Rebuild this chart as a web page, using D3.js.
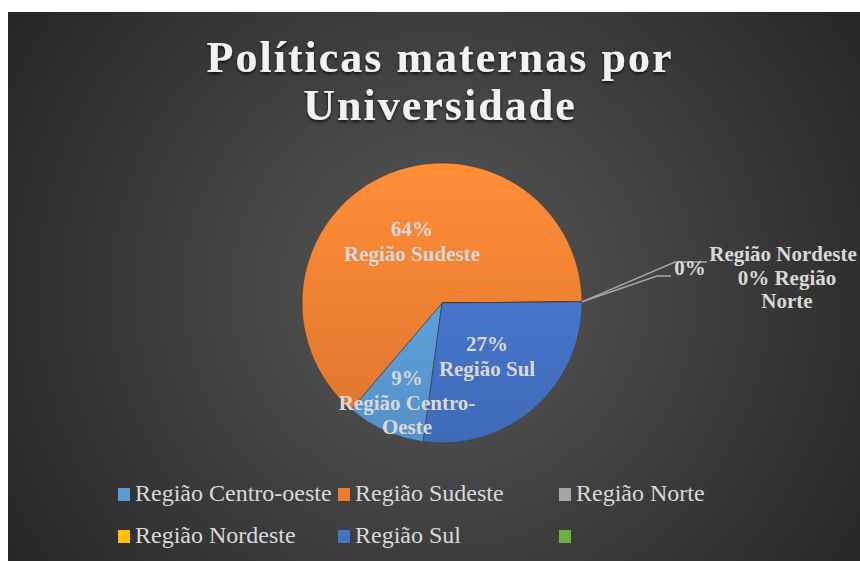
<!DOCTYPE html>
<html>
<head>
<meta charset="utf-8">
<script src="https://cdn.jsdelivr.net/npm/d3@7"></script>
<style>
  body { margin: 0; background: #fff; }
  svg { display: block; }
</style>
</head>
<body>
<div id="chart"></div>
<script>
// chart data
var regions = ["Região Centro-oeste", "Região Sudeste", "Região Norte", "Região Nordeste", "Região Sul"];
var counts = [1, 7, 0, 0, 3];
var percentLabels = ["9%", "64%", "0%", "0%", "27%"];
var sliceColors = ["#5b9bd5", "#ed7d31", "#a5a5a5", "#ffc000", "#4472c4"];
var legendNames = ["Região Centro-oeste", "Região Sudeste", "Região Norte", "Região Nordeste", "Região Sul", ""];
var legendColors = ["#5b9bd5", "#ed7d31", "#a5a5a5", "#ffc000", "#4472c4", "#70ad47"];
var titleLines = ["Políticas maternas por", "Universidade"];

var W = 860, H = 561;
var box = { left: 8, top: 12 };
var cx = 442, cy = 303, radius = 140;

var svg = d3.select("#chart").append("svg")
    .attr("width", W)
    .attr("height", H);

var defs = svg.append("defs");

// background radial gradient
var bg = defs.append("radialGradient")
    .attr("id", "bg-grad")
    .attr("gradientUnits", "userSpaceOnUse")
    .attr("cx", 440).attr("cy", 290).attr("r", 520);
bg.append("stop").attr("offset", "0%").attr("stop-color", "#585858");
bg.append("stop").attr("offset", "100%").attr("stop-color", "#252525");

svg.append("rect")
    .attr("x", box.left)
    .attr("y", box.top)
    .attr("width", W - box.left)
    .attr("height", H - box.top)
    .attr("fill", "url(#bg-grad)");

// title shadow
var shadow = defs.append("filter").attr("id", "title-shadow")
    .attr("x", "-10%").attr("y", "-20%").attr("width", "120%").attr("height", "150%");
shadow.append("feDropShadow")
    .attr("dx", 0).attr("dy", 2).attr("stdDeviation", 1.5)
    .attr("flood-color", "#000").attr("flood-opacity", 0.7);

svg.append("g").selectAll("text")
    .data(titleLines)
    .enter()
    .append("text")
    .attr("x", 440)
    .attr("y", function(d, i){ return 72 + i * 48; })
    .attr("text-anchor", "middle")
    .attr("font-family", "'Liberation Serif', 'Times New Roman', serif")
    .attr("font-weight", "bold")
    .attr("font-size", "44px")
    .attr("letter-spacing", "2px")
    .attr("fill", "#f2f2f2")
    .attr("filter", "url(#title-shadow)")
    .text(function(d){ return d; });

// slice gradients, lighter on top (coordinates of the pie group)
sliceColors.forEach(function(c, i){
    var g = defs.append("linearGradient")
        .attr("id", "slice-grad-" + i)
        .attr("gradientUnits", "userSpaceOnUse")
        .attr("x1", 0).attr("y1", -radius)
        .attr("x2", 0).attr("y2", radius);
    g.append("stop").attr("offset", "0%").attr("stop-color", d3.color(c).brighter(0.35));
    g.append("stop").attr("offset", "100%").attr("stop-color", d3.color(c).darker(0.2));
});

var startDeg = 187.7;
var pie = d3.pie()
    .sort(null)
    .value(function(d){ return d; })
    .startAngle(startDeg * Math.PI / 180)
    .endAngle((startDeg + 360) * Math.PI / 180);

var arcs = pie(counts);
var arc = d3.arc().innerRadius(0).outerRadius(radius);

var pieG = svg.append("g").attr("transform", "translate(" + cx + "," + cy + ")");

pieG.selectAll("path")
    .data(arcs)
    .enter()
    .append("path")
    .attr("d", arc)
    .attr("fill", function(d, i){ return "url(#slice-grad-" + i + ")"; })
    .attr("stroke", "#3a3a3a")
    .attr("stroke-width", 0.6);

// labels inside slices
var labelFont = "'Liberation Serif', 'Times New Roman', serif";
var labelColor = "#d9d9d9";
var inside = [
    { i: 1, dx: -30, dy: -67, lines: ["64%", "Região Sudeste"] },
    { i: 4, dx: 45, dy: 48, lines: ["27%", "Região Sul"] },
    { i: 0, dx: -35, dy: 82, lines: ["9%", "Região Centro-", "Oeste"] }
];

inside.forEach(function(l){
    var t = pieG.append("text")
        .attr("text-anchor", "middle")
        .attr("font-family", labelFont)
        .attr("font-weight", "bold")
        .attr("font-size", "21px")
        .attr("fill", labelColor);
    l.lines.forEach(function(line, k){
        t.append("tspan")
            .attr("x", l.dx)
            .attr("y", l.dy + k * 24.5)
            .text(line);
    });
});

// leader lines for the zero slices
var zeroLabels = [
    { i: 2, elbow: [215, -27], end: [229, -27] },
    { i: 3, elbow: [233, -41], end: [265, -41] }
];
zeroLabels.forEach(function(z){
    var a = arcs[z.i];
    var p0 = [radius * Math.sin(a.startAngle), -radius * Math.cos(a.startAngle)];
    pieG.append("path")
        .attr("d", d3.line()([p0, z.elbow, z.end]))
        .attr("fill", "none")
        .attr("stroke", "#a6a6a6")
        .attr("stroke-width", 1.5);
});

var outside = [
    { x: 248, y: -28, lines: ["0%"] },
    { x: 341, y: -42, lines: ["Região Nordeste"] },
    { x: 345, y: -18, lines: ["0% Região", "Norte"] }
];
outside.forEach(function(l){
    var t = pieG.append("text")
        .attr("text-anchor", "middle")
        .attr("font-family", labelFont)
        .attr("font-weight", "bold")
        .attr("font-size", "21px")
        .attr("fill", labelColor);
    l.lines.forEach(function(line, k){
        t.append("tspan")
            .attr("x", l.x)
            .attr("y", l.y + k * 23)
            .text(line);
    });
});

// legend
var colX = d3.scaleOrdinal().domain([0, 1, 2]).range([118, 338, 559]);
var rowY = d3.scaleOrdinal().domain([0, 1]).range([501, 543]);

var legend = svg.append("g").selectAll("g")
    .data(legendNames)
    .enter()
    .append("g")
    .attr("transform", function(d, i){
        return "translate(" + colX(i % 3) + "," + rowY(Math.floor(i / 3)) + ")";
    });

legend.append("rect")
    .attr("x", 0)
    .attr("y", -13)
    .attr("width", 12)
    .attr("height", 13)
    .attr("fill", function(d, i){ return legendColors[i]; });

legend.append("text")
    .attr("x", 17)
    .attr("y", 0)
    .attr("font-family", labelFont)
    .attr("font-size", "24px")
    .attr("fill", "#d9d9d9")
    .text(function(d){ return d; });
</script>
</body>
</html>
